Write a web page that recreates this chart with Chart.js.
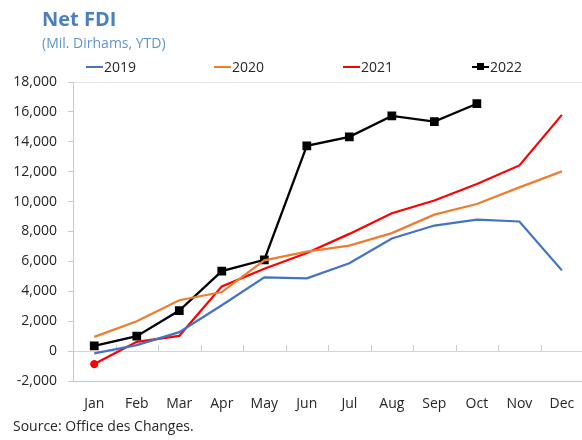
<!DOCTYPE html>
<html>
<head>
<meta charset="utf-8">
<script src="https://cdn.jsdelivr.net/npm/chart.js@4"></script>
<style>
  html, body { margin: 0; padding: 0; background: #fff; overflow: hidden; }
  body { width: 582px; height: 440px; position: relative; font-family: "Open Sans", sans-serif; }
  #wrap { position: absolute; left: 0; top: 0; width: 590px; height: 440px; }
  .txt { position: absolute; white-space: nowrap; }
  #title { left: 42px; top: 9px; font-size: 20px; line-height: 20px; font-weight: bold; color: #4a80bb; }
  #subtitle { left: 42px; top: 36px; font-size: 14px; line-height: 14px; color: #5f95c9; }
  #source { left: 13px; top: 419px; font-size: 14px; line-height: 14px; color: #262626; }
  .leg { position: absolute; top: 60px; font-size: 14px; line-height: 14px; color: #262626; }
  .leg i { display: inline-block; position: relative; width: 17px; height: 2.5px; vertical-align: 4px; margin-right: 1px; }
  .leg i b { position: absolute; left: 5px; top: -2.5px; width: 7px; height: 7px; background: #000; }
</style>
</head>
<body>
<div id="wrap"><canvas id="fdiChart" width="590" height="440"></canvas></div>
<div id="title" class="txt">Net FDI</div>
<div id="subtitle" class="txt">(Mil. Dirhams, YTD)</div>
<div class="leg" style="left:86px"><i style="background:#4472C4"></i>2019</div>
<div class="leg" style="left:214px"><i style="background:#ED7D31"></i>2020</div>
<div class="leg" style="left:343px"><i style="background:#FF0000"></i>2021</div>
<div class="leg" style="left:472px"><i style="background:#000"><b></b></i>2022</div>
<div id="source" class="txt">Source: Office des Changes.</div>

<script>
// months on the x axis
const months = ['Jan', 'Feb', 'Mar', 'Apr', 'May', 'Jun', 'Jul', 'Aug', 'Sep', 'Oct', 'Nov', 'Dec'];

// net FDI, million dirhams, year to date
const fdi2019 = [-150, 400, 1270, 3070, 4930, 4870, 5870, 7530, 8400, 8800, 8670, 5400];
const fdi2020 = [950, 2000, 3400, 3950, 6070, 6650, 7050, 7890, 9130, 9840, 10950, 12020];
const fdi2021 = [-870, 620, 1020, 4330, 5510, 6560, 7840, 9220, 10070, 11180, 12420, 15800];
const fdi2022 = [350, 1000, 2710, 5350, 6110, 13730, 14330, 15730, 15350, 16550, null, null];

const yMin = -2000;
const yMax = 18000;
const yStep = 2000;

const axisGray = '#c9c9c9';

// small tick marks on the zero line, between the months (axis crosses at 0)
const zeroTicks = {
  id: 'zeroTicks',
  beforeDatasetsDraw(chart) {
    const { ctx, chartArea, scales } = chart;
    const y0 = scales.y.getPixelForValue(0);
    const w = (chartArea.right - chartArea.left) / months.length;
    ctx.save();
    ctx.strokeStyle = axisGray;
    ctx.lineWidth = 1;
    ctx.beginPath();
    for (let i = 1; i < months.length; i++) {
      const x = Math.round(chartArea.left + i * w) + 0.5;
      ctx.moveTo(x, y0);
      ctx.lineTo(x, y0 - 6);
    }
    ctx.stroke();
    ctx.restore();
  }
};

const ctx = document.getElementById('fdiChart').getContext('2d');

new Chart(ctx, {
  type: 'line',
  data: {
    labels: months,
    datasets: [
      {
        label: '2019',
        data: fdi2019,
        borderColor: '#4472C4',
        borderWidth: 2.25,
        pointRadius: 0,
      },
      {
        label: '2020',
        data: fdi2020,
        borderColor: '#ED7D31',
        borderWidth: 2.25,
        pointRadius: 0,
      },
      {
        label: '2021',
        data: fdi2021,
        borderColor: '#FF0000',
        backgroundColor: '#FF0000',
        borderWidth: 2.25,
        pointRadius: (c) => c.dataIndex === 0 ? 3 : 0, // only Jan has a dot
      },
      {
        label: '2022',
        data: fdi2022,
        borderColor: '#000000',
        backgroundColor: '#000000',
        borderWidth: 2.25,
        pointStyle: 'rect',
        pointRadius: 4.6,
      }
    ]
  },
  options: {
    responsive: false,
    animation: false,
    elements: { line: { tension: 0 } },
    layout: {
      padding: { left: 0, top: 82, right: 5, bottom: 0 }
    },
    scales: {
      x: {
        offset: true,
        grid: {
          display: true,
          drawOnChartArea: false,
          drawTicks: false,
        },
        border: { display: true, color: axisGray, width: 1 },
        ticks: {
          color: '#262626',
          padding: 15,
          maxRotation: 0,
          autoSkip: false,
          font: { family: 'Open Sans', size: 14 },
        },
        afterFit: (scale) => { scale.height = 59; },
      },
      y: {
        min: yMin,
        max: yMax,
        border: { display: true, color: axisGray, width: 1 },
        grid: {
          color: (c) => {
            if (c.tick.value === 0) return '#d4d4d4';
            if (c.tick.value === yMax) return '#e4e4e4';
            return 'transparent';
          },
          tickColor: axisGray,
          tickLength: 5,
        },
        ticks: {
          stepSize: yStep,
          padding: 11,
          color: '#262626',
          font: { family: 'Open Sans', size: 14 },
          callback: (v) => v.toLocaleString('en-US'),
        },
        afterFit: (scale) => { scale.width = 73; },
      }
    },
    plugins: {
      legend: { display: false },
      tooltip: { enabled: false },
    },
  },
  plugins: [zeroTicks]
});
</script>
</body>
</html>
